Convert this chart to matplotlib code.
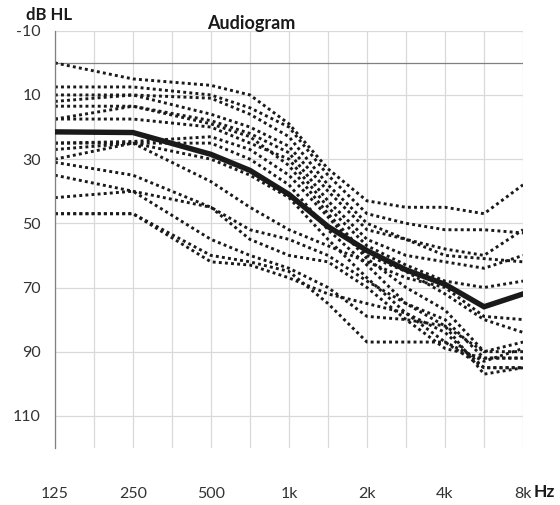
import numpy as np
import matplotlib
matplotlib.use('Agg')
import matplotlib.pyplot as plt

# Frequencies (Hz) and the tick labels shown on the axis
freqs = [125, 250, 500, 750, 1000, 1500, 2000, 3000, 4000, 6000, 8000]
tick_freqs = [125, 250, 500, 1000, 2000, 4000, 8000]
tick_labels = ['125', '250', '500', '1k', '2k', '4k', '8k']
y_ticks = [-10, 10, 30, 50, 70, 90, 110]

# Individual thresholds (dB HL), one list per ear/subject
subjects = [
    [0, 5, 7, 10, 19, 33, 43, 45, 45, 47, 38],
    [7.5, 7.5, 10, 14, 20, 35, 47, 50, 52, 52, 53],
    [10, 10, 11, 16, 23, 38, 50, 55, 58, 60, 52],
    [12, 10, 16, 20, 26, 40, 52, 55, 60, 61, 62],
    [13.5, 13.5, 18, 22, 28, 43, 55, 60, 62, 64, 60],
    [17.5, 17.5, 20, 25, 30, 45, 57, 63, 68, 70, 68],
    [17.5, 13.5, 19, 23, 32, 47, 60, 65, 72, 80, 84],
    [25, 24.5, 23, 27, 35, 48, 61, 70, 77, 90, 90],
    [25, 25, 25, 30, 38, 52, 63, 75, 80, 92, 92],
    [27, 25, 30, 35, 42, 55, 67, 78, 87, 95, 95],
    [30, 25, 37, 45, 52, 57, 62, 67, 70, 79, 80],
    [31, 35, 45, 52, 55, 60, 68, 75, 82, 97, 95],
    [35, 40, 45, 55, 60, 62, 70, 80, 89, 92, 92],
    [42, 40, 55, 60, 64, 70, 79, 80, 82, 90, 87],
    [47, 47, 60, 62, 65, 75, 87, 87, 87, 93, 89],
    [47, 47, 62, 63, 67, 72, 75, 78, 84, 95, 95],
]

# Mean audiogram
mean_db = [21.5, 21.7, 28.5, 33.5, 41, 51, 58.5, 64.5, 69, 76, 72]

# Excel-style category axis: half-octave slots, 750/1.5k/3k/6k on the in-between slots
slot = {125: 0, 250: 2, 500: 4, 750: 5, 1000: 6, 1500: 7, 2000: 8,
        3000: 9, 4000: 10, 6000: 11, 8000: 12}
x = [slot[f] for f in freqs]

plt.rcParams['font.family'] = ['Lato', 'DejaVu Sans']

fig = plt.figure(figsize=(5.6, 5.05), dpi=100)
ax = fig.add_axes([0.098, 0.113, 0.836, 0.826])

# grid
for k in range(13):
    ax.axvline(k, color='#d9d9d9', lw=0.9, zorder=0)
for yv in y_ticks:
    ax.axhline(yv, color='#d9d9d9', lw=0.9, zorder=0)
ax.axhline(0, color='#808080', lw=0.9, zorder=1)

for s in subjects:
    ax.plot(x, s, color='#1a1a1a', lw=2.1, linestyle=(0, (1, 1.1)), zorder=2)

ax.plot(x, mean_db, color='#1a1a1a', lw=3.9, solid_joinstyle='miter', zorder=3)

ax.set_xlim(0, 12)
ax.set_ylim(120, -10)
ax.set_yticks(y_ticks)
ax.set_yticklabels([str(v) for v in y_ticks], fontsize=11.5, color='#333333')
ax.set_xticks([slot[f] for f in tick_freqs])
ax.set_xticklabels(tick_labels, fontsize=11.5, color='#333333')
ax.tick_params(axis='both', length=0)
ax.tick_params(axis='y', pad=10)
ax.tick_params(axis='x', pad=28)

for side in ['top', 'right', 'bottom']:
    ax.spines[side].set_visible(False)
ax.spines['left'].set_color('#808080')
ax.spines['left'].set_linewidth(0.9)

fig.text(0.087, 0.97, 'dB HL', fontsize=12, fontweight='bold', ha='center', va='center', color='#1a1a1a')
fig.text(0.448, 0.953, 'Audiogram', fontsize=13, fontweight='bold', ha='center', va='center', color='#1a1a1a')
fig.text(0.972, 0.025, 'Hz', fontsize=12.5, fontweight='bold', ha='center', va='center', color='#1a1a1a')

fig.savefig('out.png', dpi=100)
